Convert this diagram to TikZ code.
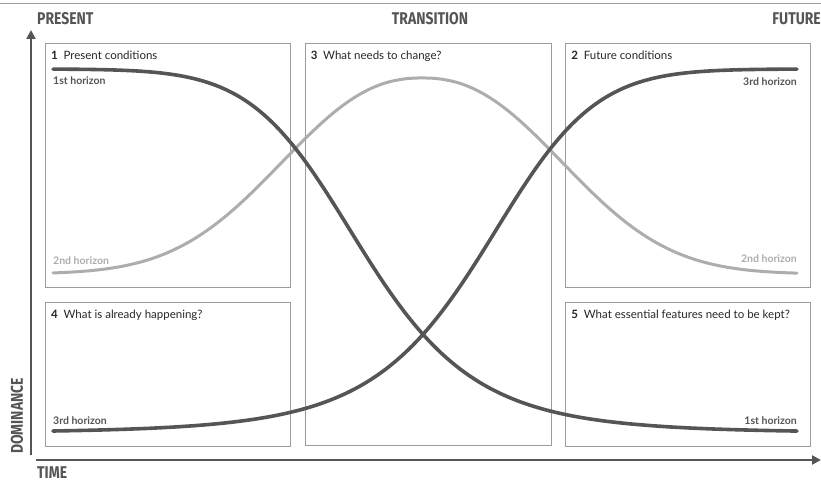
\documentclass[tikz,border=0pt]{standalone}
\usepackage{fontspec}
\setmainfont{Lato}
\newfontfamily\headfont[FakeStretch=0.82]{Fira Sans}
\usetikzlibrary{positioning,arrows.meta}

\definecolor{darkcurve}{HTML}{555555}
\definecolor{lightcurve}{HTML}{ADADAD}
\definecolor{framegray}{HTML}{9C9C9C}

\begin{document}
\begin{tikzpicture}[x=1pt, y=-1pt, node distance=14pt and 13.5pt,
    panel/.style={draw=framegray, line width=1.1pt, minimum width=245pt, inner sep=0pt},
    title/.style={anchor=north west, inner sep=0pt, font=\fontsize{11.5}{13}\selectfont, text=black!85},
    horizon/.style={inner sep=0pt, font=\bfseries\fontsize{10.5}{12}\selectfont},
    heading/.style={inner sep=0pt, font=\headfont\bfseries\fontsize{17}{20}\selectfont, text=darkcurve},
    axis/.style={draw=darkcurve, line width=2.6pt, -{Triangle[length=9pt,width=9pt]}},
    darkline/.style={draw=darkcurve, line width=3.6pt, line cap=round},
    lightline/.style={draw=lightcurve, line width=3pt, line cap=round}]

    \useasboundingbox (0,0) rectangle (821,481);

    % frames
    \node[panel, minimum height=244pt, anchor=north west] (present) at (45,43) {};
    \node[panel, minimum height=144pt, below=of present] (happening) {};
    \node[panel, minimum width=246pt, minimum height=402pt, right=of present.north east, anchor=north west] (change) {};
    \node[panel, minimum height=244pt, right=of change.north east, anchor=north west] (future) {};
    \node[panel, minimum height=144pt, below=of future] (kept) {};

    \node[title] at ([shift={(6pt,-8pt)}]present.north west) {\textbf{1}\enspace Present conditions};
    \node[title] at ([shift={(6pt,-8pt)}]future.north west) {\textbf{2}\enspace Future conditions};
    \node[title] at ([shift={(6pt,-8pt)}]change.north west) {\textbf{3}\enspace What needs to change?};
    \node[title] at ([shift={(6pt,-8pt)}]happening.north west) {\textbf{4}\enspace What is already happening?};
    \node[title] at ([shift={(6pt,-8pt)}]kept.north west) {\textbf{5}\enspace What essential features need to be kept?};

    % horizons: the two dark curves mirror each other about x=423
    \draw[lightline] plot[domain=53:797, samples=160, variable=\x]
        ({\x}, {274-196*exp(-pow((abs(\x-422)+0.01)/180,2.3))});
    \draw[darkline] plot[domain=53:797, samples=160, variable=\x]
        ({\x}, {69+364/(1+exp(-(\x-363)/(57+0.06*(\x-363))))});
    \draw[darkline] plot[domain=53:797, samples=160, variable=\x]
        ({\x}, {69+364/(1+exp(-(483-\x)/(57+0.06*(483-\x))))});

    \node[horizon, text=darkcurve, anchor=base west] (h1a) at (53,85) {1st horizon};
    \node[horizon, text=lightcurve, anchor=base west] (h2a) at (53,264) {2nd horizon};
    \node[horizon, text=darkcurve, anchor=base west] (h3a) at (53,424) {3rd horizon};
    \node[horizon, text=darkcurve, anchor=base east] (h3b) at (797,86) {3rd horizon};
    \node[horizon, text=lightcurve, anchor=base east] (h2b) at (797,262) {2nd horizon};
    \node[horizon, text=darkcurve, anchor=base east] (h1b) at (797,424) {1st horizon};

    % axes
    \draw[framegray, line width=0.8pt] (0,3) -- (821,3);
    \coordinate (domlow) at (31,455);
    \coordinate (domtop) at (31,30);
    \coordinate (timelow) at (36,460);
    \coordinate (timetop) at (821,460);
    \draw[axis] (domlow) -- (domtop);
    \draw[axis] (timelow) -- (timetop);

    \node[heading, anchor=base west] (present lbl) at (37,25) {PRESENT};
    \node[heading, anchor=base] (transition lbl) at (430,25) {TRANSITION};
    \node[heading, anchor=base east] (future lbl) at (821,25) {FUTURE};
    \node[heading, anchor=base west] (time lbl) at (37,478) {TIME};
    \node[heading, rotate=90] (dom lbl) at (17,416) {DOMINANCE};
\end{tikzpicture}
\end{document}
